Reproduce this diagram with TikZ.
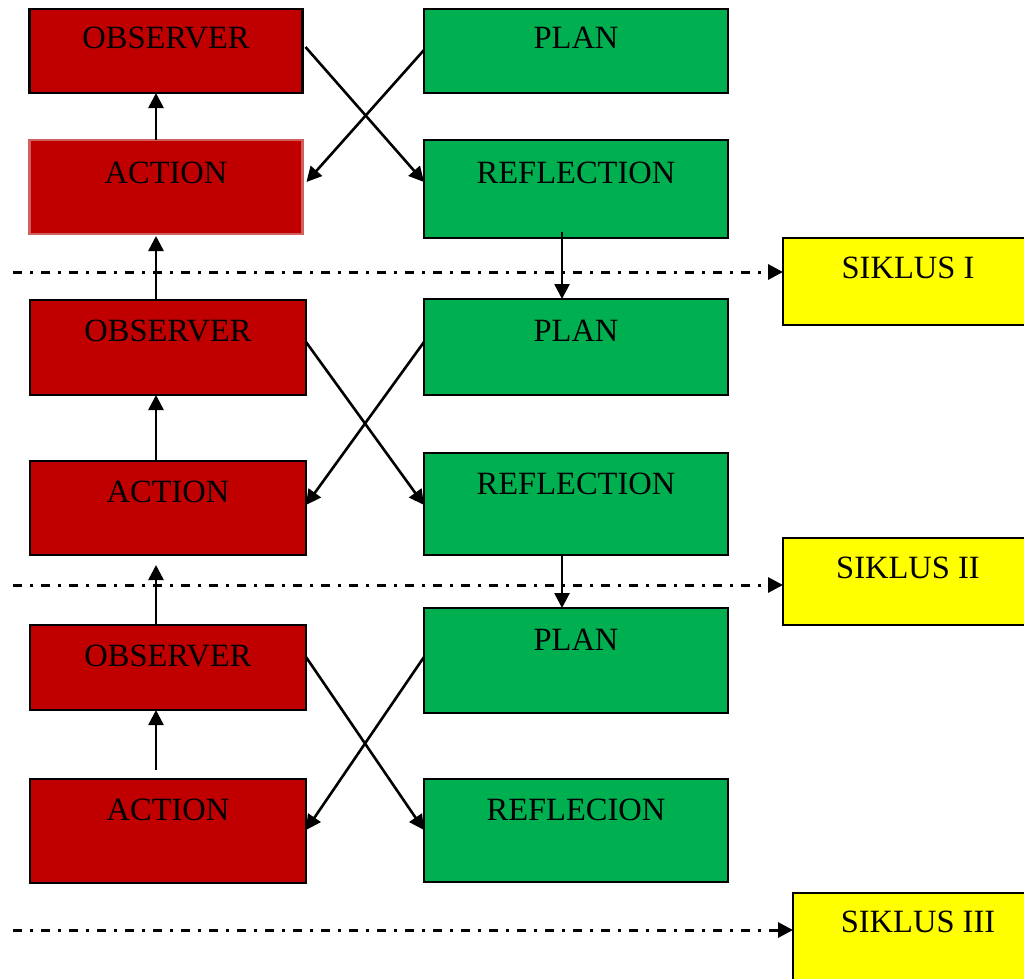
\documentclass[tikz,border=0pt]{standalone}
\usepackage{fontspec}
\setmainfont{Liberation Serif}
\usetikzlibrary{arrows.meta,calc}
\definecolor{redfill}{HTML}{C00000}
\definecolor{greenfill}{HTML}{00B050}
\definecolor{yellowfill}{HTML}{FFFF00}
\definecolor{lightedge}{HTML}{D06060}
\begin{document}
\begin{tikzpicture}[x=1pt,y=-1pt,
  box/.style={draw=black,line width=2.4pt,inner sep=0pt,outer sep=0pt},
  redbox/.style={box,fill=redfill},
  greenbox/.style={box,fill=greenfill},
  yellowbox/.style={box,fill=yellowfill},
  txt/.style={font=\fontsize{32.5}{35}\selectfont,anchor=base,inner sep=0pt},
  arr/.style={line width=2.6pt,-{Triangle[length=15pt,width=15pt]}},
  cyc/.style={line width=3pt,dash pattern=on 9pt off 8pt on 3pt off 8pt,-{Triangle[length=15pt,width=15pt]}}
]
\useasboundingbox (0,0) rectangle (1024,978);
\clip (0,0) rectangle (1024,978);
% left column
\node[redbox,minimum width=273pt,minimum height=84pt] (o1) at (166,51) {};
\node[redbox,draw=lightedge,minimum width=273pt,minimum height=94pt] (a1) at (166,187) {};
\node[redbox,minimum width=276pt,minimum height=95pt] (o2) at (168,347.5) {};
\node[redbox,minimum width=276pt,minimum height=94pt] (a2) at (168,508) {};
\node[redbox,minimum width=276pt,minimum height=85pt] (o3) at (168,667.5) {};
\node[redbox,minimum width=276pt,minimum height=104pt] (a3) at (168,831) {};
% right column
\node[greenbox,minimum width=304pt,minimum height=84pt] (p1) at (576,51) {};
\node[greenbox,minimum width=304pt,minimum height=98pt] (r1) at (576,189) {};
\node[greenbox,minimum width=304pt,minimum height=96pt] (p2) at (576,347) {};
\node[greenbox,minimum width=304pt,minimum height=102pt] (r2) at (576,504) {};
\node[greenbox,minimum width=304pt,minimum height=105pt] (p3) at (576,660.5) {};
\node[greenbox,minimum width=304pt,minimum height=103pt] (r3) at (576,830.5) {};
% yellow
\node[yellowbox,minimum width=260pt,minimum height=87pt] (s1) at (913,281.5) {};
\node[yellowbox,minimum width=260pt,minimum height=87pt] (s2) at (913,581.5) {};
\node[yellowbox,minimum width=250pt,minimum height=90pt] (s3) at (918,938) {};
% texts
\node[txt] at (166,48) {OBSERVER};
\node[txt] at (166,183) {ACTION};
\node[txt] at (168,341) {OBSERVER};
\node[txt] at (168,502) {ACTION};
\node[txt] at (168,666) {OBSERVER};
\node[txt] at (168,820) {ACTION};
\node[txt] at (576,48) {PLAN};
\node[txt] at (576,183) {REFLECTION};
\node[txt] at (576,341) {PLAN};
\node[txt] at (576,494) {REFLECTION};
\node[txt] at (576,650) {PLAN};
\node[txt] at (576,820) {REFLECION};
\node[txt] at (908,278) {SIKLUS I};
\node[txt] at (908,578) {SIKLUS II};
\node[txt] at (918,932) {SIKLUS III};
% vertical arrows left
\draw[arr] (a1.north -| 156,0) -- (o1.south -| 156,0);
\draw[arr] (o2.north -| 156,0) -- ($(a1.south -| 156,0)+(0,2)$);
\draw[arr] (a2.north -| 156,0) -- (o2.south -| 156,0);
\draw[arr] (o3.north -| 156,0) -- ($(a2.south -| 156,0)+(0,10)$);
\draw[arr] ($(a3.north -| 156,0)+(0,-9)$) -- (o3.south -| 156,0);
% vertical arrows right
\draw[arr] ($(r1.south -| 562,0)+(0,-6)$) -- (p2.north -| 562,0);
\draw[arr] (r2.south -| 562,0) -- (p3.north -| 562,0);
% cross arrows
\draw[arr] ($(o1.north east)+(3,38)$) -- ($(r1.north west)+(0,42)$);
\draw[arr] ($(p1.north west)+(0,41)$) -- ($(a1.north east)+(4,42)$);
\draw[arr] ($(o2.north east)+(0,42)$) -- ($(r2.north west)+(0,52)$);
\draw[arr] ($(p2.north west)+(0,43)$) -- ($(a2.north east)+(0,44)$);
\draw[arr] ($(o3.north east)+(0,32)$) -- ($(r3.north west)+(0,51)$);
\draw[arr] ($(p3.north west)+(0,49)$) -- ($(a3.north east)+(0,51)$);
% cycle lines
\coordinate (c1) at (13,272);
\coordinate (c2) at (13,585);
\coordinate (c3) at (13,930);
\draw[cyc] (c1) -- (c1 -| s1.west);
\draw[cyc] (c2) -- (c2 -| s2.west);
\draw[cyc] (c3) -- (c3 -| s3.west);
\end{tikzpicture}
\end{document}
